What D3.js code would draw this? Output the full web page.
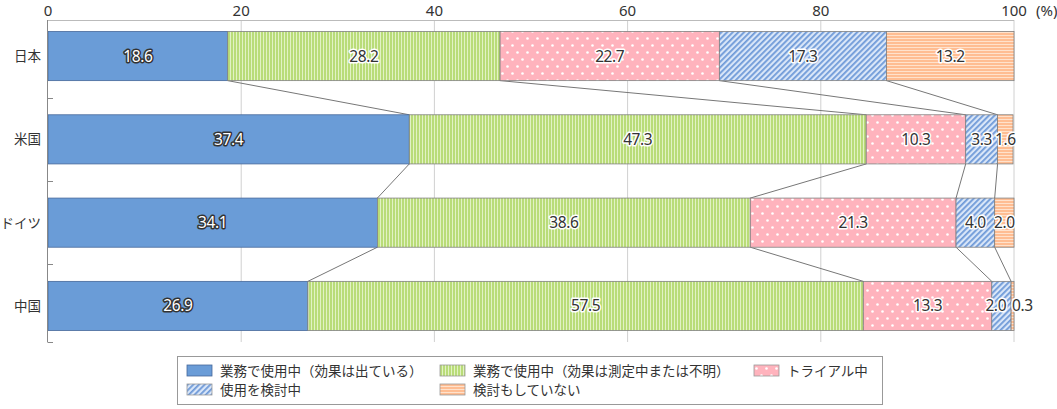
<!DOCTYPE html>
<html lang="ja">
<head>
<meta charset="utf-8">
<script src="https://cdn.jsdelivr.net/npm/d3@7.9.0/dist/d3.min.js"></script>
<style>
  html, body { margin: 0; padding: 0; background: #fff; }
  svg { display: block; font-family: "Noto Sans CJK JP", "Noto Sans", sans-serif; }
  .num { font-family: "Noto Sans", "DejaVu Sans", sans-serif; }
</style>
</head>
<body>
<svg id="chart" width="1057" height="409"></svg>
<script>
const countries = ["日本", "米国", "ドイツ", "中国"];
const seriesNames = [
  "業務で使用中（効果は出ている）",
  "業務で使用中（効果は測定中または不明）",
  "トライアル中",
  "使用を検討中",
  "検討もしていない"
];
const valuesJapan = [18.6, 28.2, 22.7, 17.3, 13.2];
const valuesUS = [37.4, 47.3, 10.3, 3.3, 1.6];
const valuesGermany = [34.1, 38.6, 21.3, 4.0, 2.0];
const valuesChina = [26.9, 57.5, 13.3, 2.0, 0.3];
const xTicks = [0, 20, 40, 60, 80, 100];

const rows = [valuesJapan, valuesUS, valuesGermany, valuesChina];

const svg = d3.select("#chart");
const defs = svg.append("defs");

// fills for each series
function makePattern(id, w, h, draw) {
  const p = defs.append("pattern")
    .attr("id", id)
    .attr("patternUnits", "userSpaceOnUse")
    .attr("width", w)
    .attr("height", h);
  draw(p);
}

makePattern("pGreen", 3, 10, (p) => {
  p.append("rect").attr("width", 3).attr("height", 10).attr("fill", "#b9dc78");
  p.append("rect").attr("x", 2).attr("width", 1).attr("height", 10).attr("fill", "#e2f2c4");
});

makePattern("pPink", 10, 14, (p) => {
  p.append("rect").attr("width", 10).attr("height", 14).attr("fill", "#ffb3bd");
  p.append("circle").attr("cx", 2.5).attr("cy", 3.5).attr("r", 1.3).attr("fill", "#fff");
  p.append("circle").attr("cx", 7.5).attr("cy", 10.5).attr("r", 1.3).attr("fill", "#fff");
});

makePattern("pHatch", 4, 4, (p) => {
  p.attr("patternTransform", "rotate(45)");
  p.append("rect").attr("width", 4).attr("height", 4).attr("fill", "#d9e6f8");
  p.append("rect").attr("width", 1.8).attr("height", 4).attr("fill", "#6f9ad8");
});

makePattern("pOrange", 10, 3, (p) => {
  p.append("rect").attr("width", 10).attr("height", 3).attr("fill", "#ffbd92");
  p.append("rect").attr("y", 2).attr("width", 10).attr("height", 1).attr("fill", "#ffe2cc");
});

const fills = ["#6a9cd7", "url(#pGreen)", "url(#pPink)", "url(#pHatch)", "url(#pOrange)"];

const x = d3.scaleLinear().domain([0, 100]).range([48, 1014]);
const y = d3.scaleBand()
  .domain(countries)
  .range([20, 342])
  .paddingInner(0.41)
  .paddingOuter(0.138);

// gridlines
svg.append("g")
  .selectAll("line")
  .data(xTicks.slice(1))
  .join("line")
  .attr("x1", (d) => x(d))
  .attr("x2", (d) => x(d))
  .attr("y1", 20)
  .attr("y2", 342)
  .attr("stroke", "#d0d0d0")
  .attr("stroke-width", 1);

// top frame line
svg.append("line")
  .attr("x1", x(0)).attr("x2", x(100))
  .attr("y1", 20.5).attr("y2", 20.5)
  .attr("stroke", "#bbb");

// top tick labels
svg.append("g")
  .selectAll("text")
  .data(xTicks)
  .join("text")
  .attr("class", "num")
  .attr("x", (d) => x(d))
  .attr("y", 16)
  .attr("text-anchor", "middle")
  .attr("font-size", 15)
  .attr("fill", "#333")
  .text((d) => d);

svg.append("text")
  .attr("class", "num")
  .attr("x", x(100) + 22)
  .attr("y", 16)
  .attr("font-size", 15)
  .attr("fill", "#333")
  .text("(%)");

// stacked segments
const stacked = rows.map((vals, i) => {
  let acc = 0;
  return vals.map((v, j) => {
    const seg = { country: countries[i], series: j, value: v, x0: acc, x1: acc + v };
    acc += v;
    return seg;
  });
});

// connectors between bars
const connectors = [];
for (let i = 0; i < stacked.length - 1; i++) {
  for (let j = 0; j < 4; j++) {
    connectors.push({
      from: stacked[i][j].x1,
      to: stacked[i + 1][j].x1,
      y1: y(countries[i]) + y.bandwidth(),
      y2: y(countries[i + 1])
    });
  }
}

svg.append("g")
  .selectAll("line")
  .data(connectors)
  .join("line")
  .attr("x1", (d) => x(d.from))
  .attr("x2", (d) => x(d.to))
  .attr("y1", (d) => d.y1)
  .attr("y2", (d) => d.y2)
  .attr("stroke", "#777")
  .attr("stroke-width", 1);

const segs = stacked.flat();

svg.append("g")
  .selectAll("rect")
  .data(segs)
  .join("rect")
  .attr("x", (d) => x(d.x0))
  .attr("y", (d) => y(d.country))
  .attr("width", (d) => x(d.x1) - x(d.x0))
  .attr("height", y.bandwidth())
  .attr("fill", (d) => fills[d.series])
  .attr("stroke", (d) => (d.series === 0 ? "#46689a" : "#808080"))
  .attr("stroke-width", 0.8);

// value labels (tiny last segment pushes labels aside)
function nextSeg(d) {
  const row = stacked.find((r) => r.includes(d));
  return row[d.series + 1];
}
function labelX(d) {
  const next = nextSeg(d);
  if (d.value < 1) return x(d.x0) + 1;
  if (next && next.value < 1) return x(d.x1) - 5;
  return (x(d.x0) + x(d.x1)) / 2;
}
function labelAnchor(d) {
  const next = nextSeg(d);
  if (d.value < 1) return "start";
  if (next && next.value < 1) return "end";
  return "middle";
}

svg.append("g")
  .selectAll("text")
  .data(segs)
  .join("text")
  .attr("class", "num")
  .attr("x", labelX)
  .attr("y", (d) => y(d.country) + y.bandwidth() / 2 + 5.5)
  .attr("text-anchor", labelAnchor)
  .attr("font-size", 15.5)
  .attr("letter-spacing", -0.4)
  .attr("paint-order", "stroke")
  .attr("stroke-linejoin", "round")
  .attr("stroke-width", 3)
  .attr("stroke", (d) => (d.series === 0 ? "#333" : "#fff"))
  .attr("fill", (d) => (d.series === 0 ? "#fff" : "#333"))
  .text((d) => d.value.toFixed(1));

// left axis
svg.append("line")
  .attr("x1", 47.5).attr("x2", 47.5)
  .attr("y1", 20).attr("y2", 342)
  .attr("stroke", "#888");

const boundaries = countries.map((c, i) =>
  i < countries.length - 1
    ? (y(c) + y.bandwidth() + y(countries[i + 1])) / 2
    : 342
);

svg.append("g")
  .selectAll("line")
  .data(boundaries)
  .join("line")
  .attr("x1", 47.5)
  .attr("x2", 53)
  .attr("y1", (d) => Math.round(d) + 0.5)
  .attr("y2", (d) => Math.round(d) + 0.5)
  .attr("stroke", "#888");

svg.append("g")
  .selectAll("text")
  .data(countries)
  .join("text")
  .attr("x", 41)
  .attr("y", (d) => y(d) + y.bandwidth() / 2 + 5)
  .attr("text-anchor", "end")
  .attr("font-size", 13.5)
  .attr("fill", "#333")
  .text((d) => d);

// legend
const legend = svg.append("g");
legend.append("rect")
  .attr("x", 177.5).attr("y", 356.5)
  .attr("width", 705).attr("height", 48)
  .attr("fill", "#fff")
  .attr("stroke", "#999");

const legendPos = [
  { x: 187, y: 365 },
  { x: 440, y: 365 },
  { x: 754, y: 365 },
  { x: 187, y: 384 },
  { x: 440, y: 384 }
];

const items = legend.selectAll("g")
  .data(seriesNames)
  .join("g")
  .attr("transform", (_, i) => `translate(${legendPos[i].x},${legendPos[i].y})`);

items.append("rect")
  .attr("width", 25)
  .attr("height", 11)
  .attr("fill", (_, i) => fills[i])
  .attr("stroke", (_, i) => (i === 0 ? "#46689a" : "#999"))
  .attr("stroke-width", 0.8);

items.append("text")
  .attr("x", 33)
  .attr("y", 10.5)
  .attr("font-size", 13.5)
  .attr("fill", "#333")
  .text((d) => d);
</script>
</body>
</html>
